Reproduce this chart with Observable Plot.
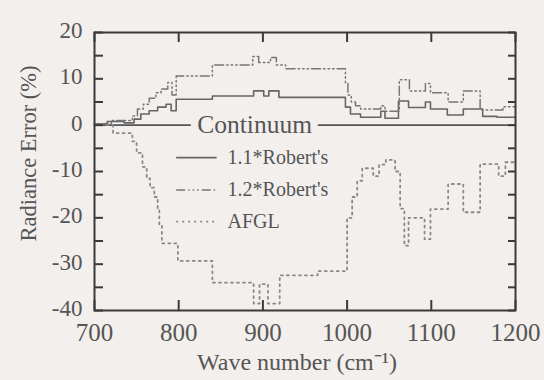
<!DOCTYPE html>
<html><head><meta charset="utf-8">
<script src="https://cdn.jsdelivr.net/npm/d3@7"></script>
<script src="https://cdn.jsdelivr.net/npm/@observablehq/plot@0.6"></script>
<style>
html,body{margin:0;padding:0;background:#f3efed;}
</style></head><body><div id="chart"></div>
<script>
// ---- data (step-after: value holds from this wave number to the next) ----
const continuumWave = [700, 1200];
const continuumErr  = [0, 0];

const robert11Wave = [700, 715, 735, 747, 755, 765, 775, 785, 791, 797, 840, 889, 901, 907, 919, 998, 1004, 1016, 1040, 1045, 1061, 1073, 1093, 1099, 1119, 1138, 1161, 1178, 1200];
const robert11Err  = [0.3, 0.8, 0.5, 1.3, 2.4, 3.1, 3.9, 4.5, 3.1, 5.6, 6.3, 7.4, 6.3, 7.4, 6.0, 3.9, 2.4, 1.7, 3.0, 1.5, 5.2, 3.8, 5.0, 3.5, 2.2, 3.5, 1.9, 1.7, 1.7];

const robert12Wave = [700, 720, 745, 751, 758, 765, 773, 779, 787, 792, 797, 840, 888, 895, 909, 916, 927, 998, 1001, 1005, 1010, 1016, 1040, 1045, 1062, 1074, 1093, 1099, 1120, 1138, 1158, 1185, 1200];
const robert12Err  = [0.3, 1.0, 2.0, 3.5, 4.5, 5.8, 7.0, 7.8, 9.2, 6.5, 10.6, 13.0, 14.8, 13.5, 14.6, 13.0, 12.2, 9.0, 6.5, 5.0, 4.2, 3.5, 4.2, 3.0, 9.8, 7.4, 9.0, 7.0, 5.0, 7.4, 3.3, 4.0, 4.0];

const afglWave = [700, 722, 745, 750, 757, 762, 766, 771, 775, 777, 780, 799, 840, 889, 896, 906, 920, 965, 1000, 1006, 1012, 1018, 1031, 1038, 1046, 1057, 1063, 1068, 1073, 1092, 1099, 1120, 1138, 1158, 1180, 1188, 1200];
const afglErr  = [0, -1.7, -3.5, -6, -9, -11.5, -13.5, -15.5, -18, -21.5, -25.5, -29.3, -34, -38.5, -34.3, -38.5, -32.4, -31.5, -20, -15.5, -12, -9.3, -11, -8.5, -7.5, -10, -18, -26, -20, -24.6, -18.1, -12.7, -18.8, -8.4, -11, -8, -8];

const xTicks = [700, 800, 900, 1000, 1100, 1200];
const yTickLabels = [-40, -30, -20, -10, 0, 10, 20];
const yTicksAll = [-40, -35, -30, -25, -20, -15, -10, -5, 0, 5, 10, 15, 20];
const legendNames = ["1.1*Robert's", "1.2*Robert's", "AFGL"];

// ---- layout / style ----
const W = 544, H = 380, ML = 94, MR = 29, MT = 32, MB = 70;
const FW = W - ML - MR, FH = H - MT - MB;
const BG = "#f3efed";
const INK = "#555";
// legend layout (data coordinates inside the frame)
const LEG = {x1: 797, x2: 845, xt: 858, ys: [-7, -14, -20.8]};

const rows = (xs, vs) => xs.map((x, i) => ({x, v: vs[i]}));
const contData = rows(continuumWave, continuumErr);
const r11 = rows(robert11Wave, robert11Err);
const r12 = rows(robert12Wave, robert12Err);
const afgl = rows(afglWave, afglErr);

const styles = [
  {stroke: "#666", strokeWidth: 1.6, strokeDasharray: null},
  {stroke: "#777", strokeWidth: 1.5, strokeDasharray: "9,3,1.5,3,1.5,3,1.5,3"},
  {stroke: "#888", strokeWidth: 1.8, strokeDasharray: "2,4"}
];

const legendMarks = legendNames.flatMap((name, i) => [
  Plot.link([name], {x1: () => LEG.x1, x2: () => LEG.x2, y1: () => LEG.ys[i], y2: () => LEG.ys[i], ...styles[i]}),
  Plot.text([name], {x: () => LEG.xt, y: () => LEG.ys[i], text: d => d, textAnchor: "start", fontSize: 20, fill: INK})
]);

const chart = Plot.plot({
  width: W, height: H,
  marginLeft: ML, marginRight: MR, marginTop: MT, marginBottom: MB,
  x: {domain: [700, 1200]},
  y: {domain: [-40, 20]},
  style: {background: BG, fontFamily: "'Liberation Serif', 'Times New Roman', serif", color: INK},
  marks: [
    Plot.line(contData, {x: "x", y: "v", stroke: "#555", strokeWidth: 1.6}),
    Plot.line(r11, {x: "x", y: "v", curve: "step-after", ...styles[0]}),
    Plot.line(r12, {x: "x", y: "v", curve: "step-after", ...styles[1]}),
    Plot.line(afgl, {x: "x", y: "v", curve: "step-after", ...styles[2]}),
    Plot.text(["Continuum"], {x: () => 822, y: () => 0, text: d => d, textAnchor: "start", fontSize: 25.5, fill: INK, stroke: BG, strokeWidth: 15, paintOrder: "stroke"}),
    ...legendMarks,
    // inward ticks
    Plot.tickY(yTicksAll, {y: d => d, insetRight: FW - 9, stroke: "#3a3a3a", strokeWidth: 2}),
    Plot.tickY(yTicksAll, {y: d => d, insetLeft: FW - 7, stroke: "#3a3a3a", strokeWidth: 2}),
    Plot.tickX(xTicks, {x: d => d, insetTop: FH - 10, stroke: "#3a3a3a", strokeWidth: 2}),
    Plot.tickX(xTicks, {x: d => d, insetBottom: FH - 10, stroke: "#3a3a3a", strokeWidth: 2}),
    Plot.frame({stroke: "#3a3a3a", strokeWidth: 2}),
    Plot.axisY({ticks: yTickLabels, tickSize: 0, tickPadding: 12, fontSize: 23, fill: INK, label: null, tickFormat: d => String(d), dy: -2}),
    Plot.axisX({ticks: xTicks, tickSize: 0, tickPadding: 13, fontSize: 25, fill: INK, label: null, tickFormat: d => String(d)}),
    Plot.text(["Radiance Error (%)"], {text: d => d, frameAnchor: "left", textAnchor: "middle", lineAnchor: "middle", dx: -66, dy: -18, rotate: -90, fontSize: 22.5, fill: INK}),
    Plot.text(["Wave number (cm⁻¹)"], {text: d => d, frameAnchor: "bottom", textAnchor: "middle", lineAnchor: "middle", dx: -8, dy: 52, fontSize: 24, fill: INK})
  ]
});
document.getElementById("chart").appendChild(chart);
</script>
</body></html>
